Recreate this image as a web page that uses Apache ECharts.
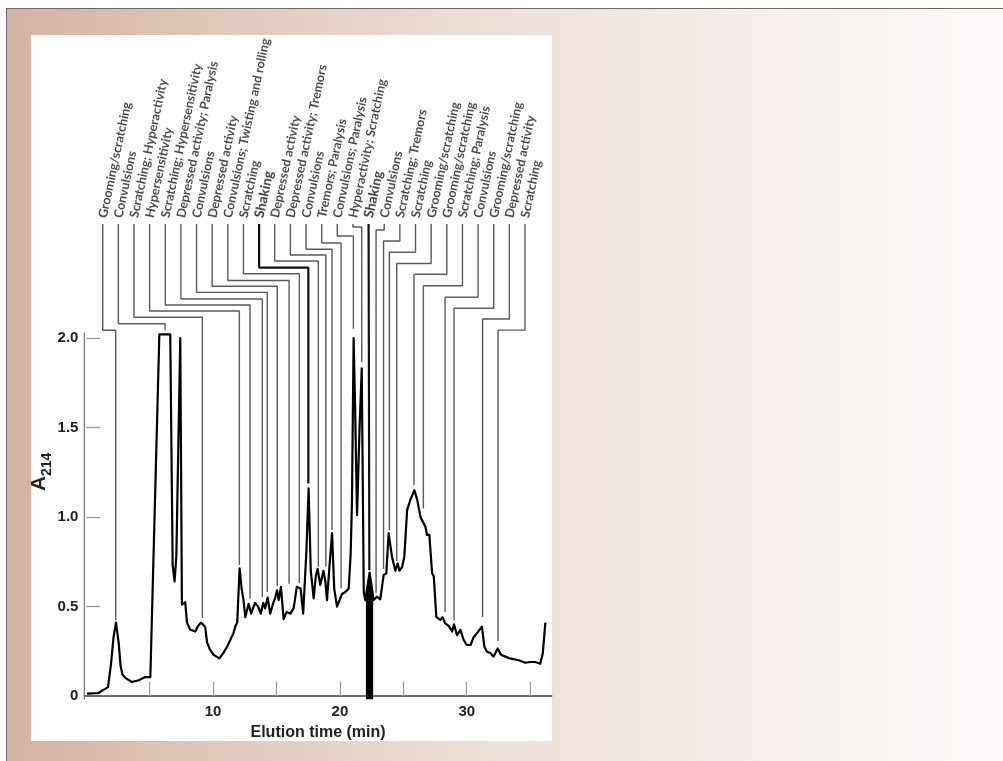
<!DOCTYPE html>
<html><head><meta charset="utf-8">
<script src="https://cdn.jsdelivr.net/npm/echarts@6/dist/echarts.min.js"></script>
<style>
html,body{margin:0;padding:0;width:1003px;height:761px;overflow:hidden;background:#fff;}
#bg{position:absolute;left:6px;top:8px;right:0;bottom:0;border-top:1px solid #6a6a6a;border-left:1px solid #6a6a6a;
background:linear-gradient(90deg,#d5b2a0 0%,#e1c9bc 22%,#eadad2 42%,#f0e5e0 58%,#f6efec 78%,#fcfaf9 100%);}
#panel{position:absolute;left:31px;top:35px;width:521px;height:706px;background:#fff;}
#chart{position:absolute;left:0;top:0;width:1003px;height:761px;}
</style></head><body>
<div id="bg"></div><div id="panel"></div><div id="chart"></div>
<script>
// ---- chromatogram trace (elution time in min, A214) ----
const elutionTime = [0.05,0.5,0.97,1.24,1.5,1.71,1.95,2.15,2.34,2.55,2.7,2.85,3.1,3.6,4.13,4.65,5.05,5.12,5.76,6.62,6.81,6.96,7.1,7.41,7.54,7.8,7.94,8.2,8.6,8.8,9.04,9.2,9.38,9.52,9.75,10.04,10.5,10.8,11.1,11.6,11.75,11.9,12.09,12.25,12.4,12.54,12.8,13.0,13.3,13.55,13.76,13.95,14.1,14.3,14.5,14.7,14.9,15.04,15.17,15.35,15.56,15.8,16.1,16.35,16.6,16.9,17.1,17.35,17.53,17.7,17.93,18.1,18.24,18.45,18.7,18.85,18.98,19.15,19.38,19.55,19.77,20.0,20.16,20.4,20.69,20.85,20.95,21.08,21.2,21.35,21.55,21.72,21.88,22.0,22.34,22.66,22.92,23.18,23.45,23.66,23.84,24.1,24.37,24.55,24.7,24.9,25.08,25.3,25.55,25.87,26.1,26.35,26.5,26.74,26.87,27.05,27.27,27.4,27.6,27.9,28.1,28.3,28.6,28.84,29.0,29.23,29.5,29.76,30.0,30.3,30.55,30.8,31.0,31.2,31.39,31.6,31.86,32.12,32.44,32.7,33.05,33.4,34.1,34.62,35.0,35.4,35.8,36.0,36.2];
const absorbance = [0.013,0.015,0.017,0.03,0.04,0.05,0.18,0.33,0.41,0.3,0.17,0.12,0.1,0.078,0.088,0.106,0.106,0.11,2.02,2.02,0.73,0.64,0.78,2.0,0.51,0.525,0.41,0.37,0.36,0.39,0.41,0.40,0.385,0.3,0.26,0.23,0.21,0.24,0.275,0.35,0.39,0.41,0.713,0.6,0.536,0.44,0.515,0.46,0.52,0.5,0.46,0.52,0.49,0.55,0.46,0.51,0.55,0.59,0.536,0.61,0.43,0.47,0.46,0.49,0.61,0.60,0.46,0.8,1.16,0.7,0.545,0.67,0.71,0.62,0.70,0.64,0.536,0.7,0.91,0.6,0.5,0.54,0.57,0.58,0.60,0.8,1.09,2.0,1.6,1.01,1.5,1.83,0.58,0.536,0.69,0.536,0.555,0.54,0.676,0.685,0.91,0.78,0.70,0.74,0.70,0.72,0.78,1.04,1.095,1.15,1.095,1.0,1.0,0.945,0.9,0.9,0.685,0.67,0.443,0.425,0.44,0.406,0.39,0.36,0.40,0.34,0.37,0.313,0.285,0.285,0.33,0.35,0.37,0.387,0.275,0.247,0.24,0.22,0.266,0.23,0.22,0.21,0.2,0.186,0.19,0.19,0.18,0.24,0.41];

// dense (saturated) fraction drawn solid around 22.3 min
const solidTime = [22.05,22.05,22.2,22.34,22.48,22.62,22.62];
const solidAbs  = [-0.02,0.53,0.64,0.69,0.64,0.53,-0.02];

// ---- effects of each fraction ----
const effectLabels = ["Grooming/scratching","Convulsions","Scratching; Hyperactivity","Hypersensitivity","Scratching; Hypersensitivity","Depressed activity; Paralysis","Convulsions","Depressed activity","Convulsions; Twisting and rolling","Scratching","Shaking","Depressed activity","Depressed activity; Tremors","Convulsions","Tremors; Paralysis","Convulsions; Paralysis","Hyperactivity; Scratching","Shaking","Convulsions","Scratching; Tremors","Scratching","Grooming/scratching","Grooming/scratching","Scratching; Paralysis","Convulsions","Grooming/scratching","Depressed activity","Scratching"];
const effectTimes = [2.32,6.21,9.15,12.07,12.91,13.88,14.27,15.06,15.99,16.8,17.51,18.3,18.89,19.38,20.09,21.06,21.72,22.32,22.85,23.44,23.9,24.48,25.84,26.58,28.29,29.0,31.25,32.47];
const pointerEnds = [0.423,2.043,0.436,0.732,0.544,0.553,0.581,0.615,0.627,0.631,1.187,0.722,0.722,0.927,0.602,2.052,1.866,0.702,0.575,0.709,0.926,0.754,1.177,1.047,0.469,0.423,0.441,0.307];
const boldEffects = ["Shaking"];

// ---- axis ticks ----
const xTickValues = [5,10,15,20,25,30,35];
const xLabelValues = [10,20,30];
const yTickValues = [0.5,1,1.5,2];
const yLabelValues = [0,0.5,1,1.5,2];

// ---- layout of the label row (in axis units) ----
const LABEL_X0 = 1.293, LABEL_STEP = 1.2334, LEADER_TOP = 2.637, LABEL_Y = 2.672;
const elbowLevels = [2.043,2.080,2.116,2.151,2.184,2.218,2.255,2.289,2.321,2.359,2.393,2.430,2.464,2.496,2.531,2.570,2.620,2.60,2.603,2.542,2.479,2.416,2.356,2.292,2.228,2.166,2.106,2.044];

const chart = echarts.init(document.getElementById('chart'), null, {renderer:'canvas'});
const trace = elutionTime.map((t,i)=>[t,absorbance[i]]);
const solid = solidTime.map((t,i)=>[t,solidAbs[i]]);
const XMIN=-0.15, XMAX=36.7, YMIN=-0.02, YMAX=2.7;

const series = [];
effectLabels.forEach((lab,i)=>{
  const lx = LABEL_X0 + i*LABEL_STEP;
  const bold = boldEffects.includes(lab);
  series.push({type:'line', silent:true, symbol:'none', animation:false, z:2,
    lineStyle:{color: bold?'#111':'#5a5a5a', width: bold?2.2:1.4},
    data:[[lx,LEADER_TOP],[lx,elbowLevels[i]],[effectTimes[i],elbowLevels[i]],[effectTimes[i],pointerEnds[i]]]});
});
series.push({type:'scatter', silent:true, symbolSize:0, clip:false, animation:false, z:5,
  data: effectLabels.map((lab,i)=>({value:[LABEL_X0+i*LABEL_STEP, LABEL_Y], name:lab,
    label:{fontWeight: boldEffects.includes(lab)?900:700, fontSize: boldEffects.includes(lab)?13.5:12.6}})),
  label:{show:true, position:'inside', formatter:p=>p.name, rotate:78, align:'left', verticalAlign:'middle',
    fontFamily:'Lato', fontSize:12.6, fontWeight:700, color:'#1a1a1a'}});
// y axis line (stops at 2.0)
series.push({type:'line', silent:true, symbol:'none', clip:false, animation:false, z:3,
  lineStyle:{color:'#7a7a7a', width:1.3}, data:[[XMIN,YMIN],[XMIN,2.03]]});
series.push({type:'line', silent:true, symbol:'none', animation:false, z:4,
  lineStyle:{width:0}, areaStyle:{color:'#000', opacity:1, origin:'start'}, data:solid});
series.push({type:'line', silent:true, symbol:'none', animation:false, z:6,
  lineStyle:{color:'#000', width:2.2, join:'round'}, data:trace});

chart.setOption({
  animation:false,
  grid:{left:84.4, top:212.7, width:467.3, height:486.9, containLabel:false},
  xAxis:{type:'value', min:XMIN, max:XMAX,
    axisLine:{show:true, lineStyle:{color:'#3c3c3c', width:1.5}},
    axisTick:{show:true, inside:true, length:14, customValues:xTickValues, lineStyle:{color:'#9a9a9a', width:1.3}},
    axisLabel:{customValues:xLabelValues, margin:5, fontFamily:'Liberation Sans', fontWeight:'bold', fontSize:15, color:'#222'},
    splitLine:{show:false},
    name:'Elution time (min)', nameLocation:'middle', nameGap:21,
    nameTextStyle:{fontFamily:'Liberation Sans', fontWeight:'bold', fontSize:16, color:'#222'}},
  yAxis:{type:'value', min:YMIN, max:YMAX,
    axisLine:{show:false},
    axisTick:{show:true, inside:true, length:14, customValues:yTickValues, lineStyle:{color:'#9a9a9a', width:1.3}},
    axisLabel:{customValues:yLabelValues, margin:6, fontFamily:'Liberation Sans', fontWeight:'bold', fontSize:15, color:'#222',
      formatter:v=> v===0?'0':v.toFixed(1)},
    splitLine:{show:false}},
  graphic:[{type:'group', x:50, y:491, rotation:Math.PI/2, silent:true, children:[
    {type:'text', x:0, y:0, style:{text:'A', font:'bold 21px "Liberation Sans"', fill:'#222', verticalAlign:'bottom', align:'left'}},
    {type:'text', x:15, y:4, style:{text:'214', font:'bold 14px "Liberation Sans"', fill:'#222', verticalAlign:'bottom', align:'left'}}
  ]}],
  series
});
</script>
</body></html>
